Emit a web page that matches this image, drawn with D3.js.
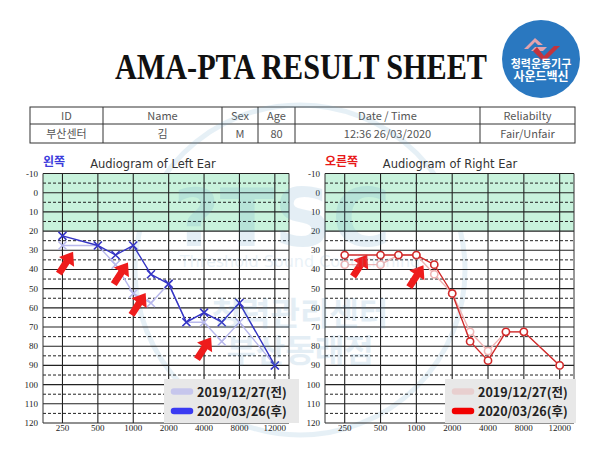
<!DOCTYPE html>
<html>
<head>
<meta charset="utf-8">
<script src="https://cdn.jsdelivr.net/npm/d3@7"></script>
<style>
  body { margin: 0; background: #fff; }
  svg { display: block; }
</style>
</head>
<body>
<div id="chart"></div>
<script>
// frequencies measured (index position on the audiogram axis)
const freqs = ["250", "500", "750", "1000", "1500", "2000", "3000", "4000", "6000", "8000", "12000"];
const freqPos = [0, 1, 1.5, 2, 2.5, 3, 3.5, 4, 4.5, 5, 6];
const freqTicks = ["250", "500", "1000", "2000", "4000", "8000", "12000"];
const dbTicks = [-10, 0, 10, 20, 30, 40, 50, 60, 70, 80, 90, 100, 110, 120];
const dbDashed = [-5, 5, 15, 25, 35, 45, 55, 65, 75, 85, 95, 105, 115];

// hearing thresholds (dB)
const leftBefore = [27.5, 27.5, 37.5, 52.5, 57.5, 47.5, 67.5, 67.5, 77.5, 67.5, 90];
const leftAfter = [22.5, 27.5, 32.5, 27.5, 42.5, 47.5, 67.5, 62.5, 67.5, 57.5, 90];
const rightBefore = [37.5, 37.5, 32.5, 32.5, 42.5, 52.5, 72.5, 82.5, 72.5, 72.5, 90];
const rightAfter = [32.5, 32.5, 32.5, 32.5, 37.5, 52.5, 77.5, 87.5, 72.5, 72.5, 90];

const legendLabels = ["2019/12/27(전)", "2020/03/26(후)"];

// red arrows (freq index, dB)
const leftArrows = [[0.1, 36.5], [1.65, 42], [2.15, 58], [4.0, 81]];
const rightArrows = [[0.43, 38], [2.0, 43.5]];

// header table
const tableHead = ["ID", "Name", "Sex", "Age", "Date / Time", "Reliabilty"];
const tableRow = ["부산센터", "김", "M", "80", "12:36 26/03/2020", "Fair/Unfair"];
const tableCols = [30, 103, 222, 258, 295, 480, 575];

const W = 600, H = 449;
const KR = "'Noto Sans CJK KR', 'Noto Sans', sans-serif";

const svg = d3.select("#chart").append("svg")
  .attr("width", W)
  .attr("height", H)
  .attr("viewBox", `0 0 ${W} ${H}`);

svg.append("rect").attr("width", W).attr("height", H).attr("fill", "#fff");

// title
svg.append("text")
  .attr("x", 115)
  .attr("y", 79)
  .attr("textLength", 372)
  .attr("lengthAdjust", "spacingAndGlyphs")
  .style("font-family", "'Liberation Serif', 'Times New Roman', serif")
  .style("font-weight", "bold")
  .style("font-size", "35px")
  .style("fill", "#111")
  .text("AMA-PTA RESULT SHEET");

// logo
const logo = svg.append("g").attr("transform", "translate(541,59)");
logo.append("circle").attr("r", 39).attr("fill", "#2a78c0");
logo.append("path")
  .attr("d", "M-17,-10 L-6,-21 L2,-14 L-3,-14 L-6,-17 L-13,-10 Z M-6,-12 L6,-12 L2,-8 L-10,-8 Z")
  .attr("fill", "#e3a3ad");
logo.append("path")
  .attr("d", "M-4,-12 L3,-3 L13,-13 L19,-13 L3,3 L-8,-8 Z")
  .attr("fill", "#c2343e");
logo.append("text")
  .attr("x", 0).attr("y", 9)
  .attr("text-anchor", "middle")
  .style("font-family", KR).style("font-weight", "bold").style("font-size", "11px")
  .style("fill", "#fff")
  .text("청력운동기구");
logo.append("text")
  .attr("x", 0).attr("y", 22)
  .attr("text-anchor", "middle")
  .style("font-family", KR).style("font-weight", "bold").style("font-size", "12px")
  .style("fill", "#fff")
  .text("사운드백신");

// table
const tTop = 107, tMid = 124, tBot = 143;
const table = svg.append("g");
table.append("rect")
  .attr("x", tableCols[0]).attr("y", tTop)
  .attr("width", tableCols[6] - tableCols[0]).attr("height", tBot - tTop)
  .attr("fill", "none").attr("stroke", "#333").attr("stroke-width", 1);
table.append("line")
  .attr("x1", tableCols[0]).attr("x2", tableCols[6])
  .attr("y1", tMid).attr("y2", tMid)
  .attr("stroke", "#333");
table.selectAll("line.col").data(tableCols.slice(1, 6)).enter().append("line")
  .attr("class", "col")
  .attr("x1", (d) => d).attr("x2", (d) => d)
  .attr("y1", tTop).attr("y2", tBot)
  .attr("stroke", "#333");
[[tableHead, (tTop + tMid) / 2], [tableRow, (tMid + tBot) / 2]].forEach(([cells, cy]) => {
  table.selectAll(null).data(cells).enter().append("text")
    .attr("x", (d, i) => (tableCols[i] + tableCols[i + 1]) / 2)
    .attr("y", cy + 4)
    .attr("text-anchor", "middle")
    .style("font-family", KR)
    .style("font-size", "11px")
    .style("fill", "#555")
    .text((d) => d);
});

// faint watermark (behind the grid lines, over the white)
const wm = svg.append("g").style("opacity", 0.17).style("pointer-events", "none");
wm.append("circle")
  .attr("cx", 300).attr("cy", 270).attr("r", 165)
  .attr("fill", "none").attr("stroke", "#6aa6cc").attr("stroke-width", 5);

// audiogram panels
const y = d3.scaleLinear().domain([-10, 120]).range([173.5, 423]);

const arrowPath = "M-13,-3.5 L1,-3.5 L1,-9 L13,0 L1,9 L1,3.5 L-13,3.5 Z";

const drawPanel = (opt) => {
  const x = d3.scaleLinear().domain([-0.55, 6.4]).range([opt.x0, opt.x1]);
  const g = svg.append("g");

  g.append("rect")
    .attr("x", opt.x0).attr("y", y(-10))
    .attr("width", opt.x1 - opt.x0).attr("height", y(20) - y(-10))
    .attr("fill", "#c8f2dc");

  g.selectAll("line.dash").data(dbDashed).enter().append("line")
    .attr("x1", opt.x0).attr("x2", opt.x1)
    .attr("y1", (d) => y(d)).attr("y2", (d) => y(d))
    .attr("stroke", "#222").attr("stroke-width", 1)
    .attr("stroke-dasharray", "3,2");

  g.selectAll("line.solid").data(dbTicks).enter().append("line")
    .attr("x1", opt.x0).attr("x2", opt.x1)
    .attr("y1", (d) => y(d)).attr("y2", (d) => y(d))
    .attr("stroke", "#222").attr("stroke-width", 1.1);

  g.selectAll("line.vert").data(freqTicks).enter().append("line")
    .attr("x1", (d) => x(freqPos[freqs.indexOf(d)]))
    .attr("x2", (d) => x(freqPos[freqs.indexOf(d)]))
    .attr("y1", y(-10)).attr("y2", y(120))
    .attr("stroke", "#222").attr("stroke-width", 1.1);

  [opt.x0, opt.x1].forEach((px) => {
    g.append("line")
      .attr("x1", px).attr("x2", px)
      .attr("y1", y(-10)).attr("y2", y(120))
      .attr("stroke", "#333").attr("stroke-width", 1);
  });

  // tick labels
  g.selectAll("text.ylab").data(dbTicks).enter().append("text")
    .attr("x", opt.x0 - 5)
    .attr("y", (d) => y(d) + 3)
    .attr("text-anchor", "end")
    .style("font-family", "'Liberation Serif', serif")
    .style("font-size", "9px")
    .style("fill", "#222")
    .text((d) => d);

  g.selectAll("text.xlab").data(freqTicks).enter().append("text")
    .attr("x", (d) => x(freqPos[freqs.indexOf(d)]))
    .attr("y", 431)
    .attr("text-anchor", "middle")
    .style("font-family", "'Liberation Serif', serif")
    .style("font-size", "9px")
    .style("fill", "#222")
    .text((d) => d);

  // headings
  g.append("text")
    .attr("x", opt.x0).attr("y", 166)
    .style("font-family", KR).style("font-weight", "bold").style("font-size", "12px")
    .style("fill", opt.sideColor)
    .text(opt.side);
  g.append("text")
    .attr("x", opt.titleX).attr("y", 168)
    .attr("text-anchor", "middle")
    .style("font-family", "'DejaVu Sans', sans-serif").style("font-size", "11.5px")
    .style("fill", "#333")
    .text(opt.title);

  // series
  const line = d3.line()
    .x((d, i) => x(freqPos[i]))
    .y((d) => y(d));

  [[opt.before, opt.colorBefore], [opt.after, opt.colorAfter]].forEach(([vals, col]) => {
    g.append("path")
      .datum(vals)
      .attr("d", line)
      .attr("fill", "none")
      .attr("stroke", col)
      .attr("stroke-width", 1.4);

    const m = g.selectAll(null).data(vals).enter().append("g")
      .attr("transform", (d, i) => `translate(${x(freqPos[i])},${y(d)})`);
    if (opt.marker === "x") {
      m.append("path")
        .attr("d", "M-4,-4 L4,4 M-4,4 L4,-4")
        .attr("stroke", col).attr("stroke-width", 1.5);
    } else {
      m.append("circle")
        .attr("r", 3.6)
        .attr("fill", "#fff")
        .attr("stroke", col).attr("stroke-width", 1.6);
    }
  });

  // arrows
  g.selectAll("path.arrow").data(opt.arrows).enter().append("path")
    .attr("d", arrowPath)
    .attr("transform", (d) => `translate(${x(d[0])},${y(d[1])}) rotate(-57)`)
    .attr("fill", "#ee1c1c");

  // legend
  const lx = opt.legendX;
  g.append("rect")
    .attr("x", lx).attr("y", 379)
    .attr("width", opt.legendW).attr("height", 44)
    .attr("fill", "#e8e8e8");
  legendLabels.forEach((lab, i) => {
    const ly = 391.5 + i * 19.5;
    g.append("line")
      .attr("x1", lx + 10).attr("x2", lx + 26)
      .attr("y1", ly).attr("y2", ly)
      .attr("stroke", i === 0 ? opt.legendBefore : opt.legendAfter)
      .attr("stroke-width", 6.5)
      .attr("stroke-linecap", "round");
    g.append("text")
      .attr("x", lx + 33).attr("y", ly + 5)
      .style("font-family", KR).style("font-weight", "bold").style("font-size", "12.5px")
      .style("fill", "#222")
      .text(lab);
  });
};

drawPanel({
  x0: 43, x1: 289, titleX: 153,
  side: "왼쪽", sideColor: "#3b3bdc", title: "Audiogram of Left Ear",
  before: leftBefore, after: leftAfter,
  colorBefore: "#b8b8ec", colorAfter: "#3434c4",
  legendBefore: "#c6c6ec", legendAfter: "#3a3af2",
  marker: "x", arrows: leftArrows,
  legendX: 164, legendW: 135
});

drawPanel({
  x0: 325, x1: 574, titleX: 450,
  side: "오른쪽", sideColor: "#e81818", title: "Audiogram of Right Ear",
  before: rightBefore, after: rightAfter,
  colorBefore: "#f0b4b4", colorAfter: "#d02a2a",
  legendBefore: "#e8cfcf", legendAfter: "#f20000",
  marker: "o", arrows: rightArrows,
  legendX: 445, legendW: 131
});

// watermark texts, semi-transparent over the charts
const wmt = svg.append("g").style("opacity", 0.16).style("pointer-events", "none");
wmt.append("text")
  .attr("x", 282).attr("y", 246)
  .attr("text-anchor", "middle")
  .style("font-family", "'DejaVu Sans', sans-serif").style("font-weight", "bold").style("font-size", "80px")
  .style("fill", "#5e9cc6")
  .text("?TSC");
wmt.append("text")
  .attr("x", 300).attr("y", 267)
  .attr("text-anchor", "middle")
  .style("font-family", "'DejaVu Sans', sans-serif").style("font-size", "16px")
  .style("fill", "#7aaed0")
  .text("Threshold Sound Conditioning");
wmt.append("text")
  .attr("x", 300).attr("y", 325)
  .attr("text-anchor", "middle")
  .style("font-family", KR).style("font-weight", "bold").style("font-size", "32px")
  .style("fill", "#5e9cc6")
  .text("청력관리센터");
wmt.append("text")
  .attr("x", 300).attr("y", 362)
  .attr("text-anchor", "middle")
  .style("font-family", KR).style("font-weight", "bold").style("font-size", "32px")
  .style("fill", "#5e9cc6")
  .text("부산동래점");
</script>
</body>
</html>
